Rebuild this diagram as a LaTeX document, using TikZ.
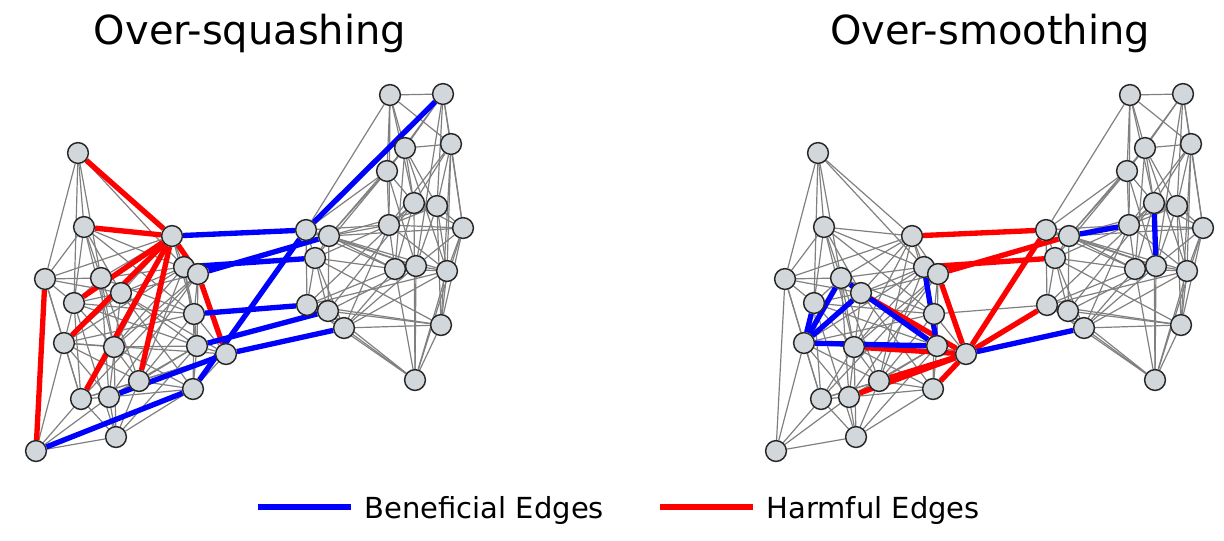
\documentclass[tikz,border=0pt]{standalone}
\usepackage{fontspec}
\setmainfont{DejaVu Sans}
\pgfdeclarelayer{bg}
\pgfsetlayers{bg,main}

\tikzset{
  vtx/.style={circle,draw={rgb,255:red,40;green,40;blue,40},line width=1.1pt,fill={rgb,255:red,209;green,215;blue,219},minimum size=15.6pt,inner sep=0pt},
  gedge/.style={color={rgb,255:red,128;green,128;blue,128},line width=0.9pt},
  goodedge/.style={color={rgb,255:red,0;green,0;blue,255},line width=4pt},
  badedge/.style={color={rgb,255:red,255;green,0;blue,0},line width=4pt},
  ttl/.style={font=\fontsize{30}{36}\selectfont,anchor=base},
  lgd/.style={font=\fontsize{21.75}{26}\selectfont,anchor=base west}
}

\begin{document}
\begin{tikzpicture}[x=0.75pt,y=0.75pt,yscale=-1,xscale=1]
\useasboundingbox (0,0) rectangle (1224,540);

% titles
\node[ttl] (tsq) at (250,44) {Over-squashing};
\node[ttl] (tsm) at (990,44) {Over-smoothing};

% vertices, same layout in both panels
\foreach \g/\dx in {l/0,r/740}{
  \foreach \n/\px/\py in {1/78/153,2/84/227,3/172/236,4/45/279,5/101/278,6/74/303,7/121/293,8/184/267,9/198/274,10/194/314,
      11/64/343,12/114/347,13/197/346,14/226/354,15/139/381,16/81/399,17/109/397,18/193/389,19/116/437,20/36/451,
      21/390/95,22/443/94,23/405/148,24/451/144,25/387/171,26/414/203,27/437/206,28/389/225,29/463/228,30/306/230,
      31/329/236,32/315/258,33/395/269,34/416/266,35/447/271,36/307/305,37/328/311,38/344/328,39/441/325,40/415/380}{
    \node[vtx] (\g\n) at (\px+\dx,\py) {};
  }
}

\begin{pgfonlayer}{bg}
% graph edges
\foreach \g in {l,r}{
  \foreach \a/\b in {1/2,1/3,1/4,1/5,1/8,1/6,
      2/3,2/4,2/5,2/6,2/7,2/9,2/12,2/10,
      3/5,3/7,3/9,3/10,3/12,3/15,3/8,3/4,
      4/5,4/6,4/11,4/16,4/20,4/7,
      5/6,5/8,5/10,5/12,5/15,5/17,
      6/7,6/11,6/12,6/16,6/19,6/13,
      7/8,7/9,7/11,7/13,7/14,7/17,7/18,
      8/9,8/10,8/12,8/13,8/15,8/11,
      9/10,9/13,9/14,9/16,9/17,9/12,
      10/11,10/13,10/14,10/15,10/18,10/6,
      11/12,11/16,11/17,11/20,11/15,11/14,
      12/13,12/15,12/16,12/18,12/19,
      13/14,13/15,13/17,13/18,13/19,
      14/15,14/18,14/16,
      15/16,15/17,15/18,15/19,
      16/17,16/19,16/20,17/18,17/19,17/20,18/19,19/20,
      10/36,
      21/22,21/23,21/25,21/28,21/30,21/24,21/26,
      22/23,22/24,22/25,22/27,22/29,22/34,
      23/24,23/25,23/26,23/27,23/31,23/33,23/35,
      24/26,24/27,24/29,24/35,24/39,24/28,
      25/26,25/28,25/30,25/31,25/32,25/34,
      26/27,26/28,26/29,26/33,26/36,26/37,26/40,
      27/28,27/29,27/34,27/35,27/39,27/31,
      28/29,28/30,28/31,28/32,28/33,28/35,28/38,
      29/34,29/35,29/39,29/40,29/31,
      30/31,30/32,30/33,30/36,30/34,
      31/32,31/33,31/34,31/37,31/35,
      32/33,32/36,32/37,32/38,32/39,
      33/34,33/36,33/38,33/40,33/35,
      34/35,34/37,34/38,34/40,
      35/38,35/39,35/40,35/36,
      36/37,36/38,36/40,36/39,
      37/38,37/40,37/39,38/39,38/40,39/40}{
    \draw[gedge] (\g\a) -- (\g\b);
  }
}

% over-squashing: rewired edges
\foreach \a/\b in {3/1,3/2,3/6,3/11,3/16,3/15,3/9,9/14,4/20}
  \draw[badedge] (l\a) -- (l\b);
\foreach \a/\b in {3/30,22/30,8/32,9/31,10/36,13/37,14/38,17/14,20/18,18/30}
  \draw[goodedge] (l\a) -- (l\b);

% over-smoothing: rewired edges
\foreach \a/\b in {3/30,8/32,9/31,9/14,14/30,14/36,7/14,12/14,17/14,15/14,18/14}
  \draw[badedge] (r\a) -- (r\b);
\foreach \a/\b in {11/6,11/5,11/7,5/13,11/13,8/13,14/38,31/28,26/34}
  \draw[goodedge] (r\a) -- (r\b);
\end{pgfonlayer}

% legend
\coordinate (bgs) at (258,507);
\coordinate (bge) at (351,507);
\coordinate (hms) at (660,507);
\coordinate (hme) at (753,507);
\draw[goodedge] (bgs) -- (bge);
\draw[badedge] (hms) -- (hme);
\node[lgd] (bgt) at (360,518) {Beneficial Edges};
\node[lgd] (hmt) at (762,518) {Harmful Edges};

\end{tikzpicture}
\end{document}
